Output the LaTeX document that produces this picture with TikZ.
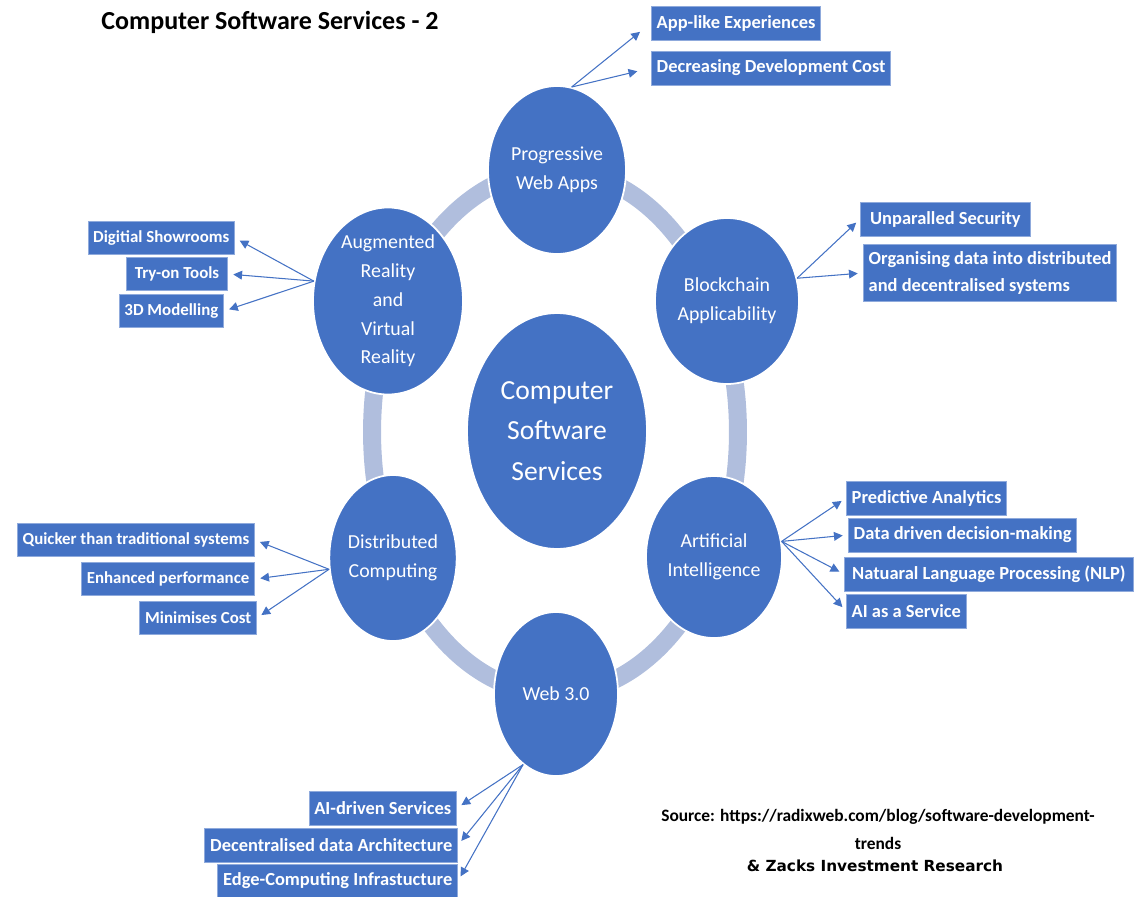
\documentclass[tikz,border=0pt]{standalone}
\usepackage{fontspec}
\setmainfont{Carlito}
\newfontfamily\zacksfont{DejaVu Sans}
\usetikzlibrary{shapes.geometric,arrows.meta}
\definecolor{bubble}{RGB}{68,114,196}
\definecolor{ringcol}{RGB}{176,190,221}
\definecolor{boxedge}{RGB}{143,170,220}
\tikzset{
  bubble/.style={ellipse, fill=bubble, draw=white, line width=1pt, inner sep=0pt,
    text=white, align=center, font=\fontsize{11.3}{16.4}\selectfont},
  tag/.style={rectangle, fill=bubble, draw=boxedge, line width=0.5pt, text=white,
    font=\fontsize{10.5}{15.9}\selectfont\bfseries, minimum height=0.68cm,
    inner xsep=3pt, inner ysep=2pt},
  smalltag/.style={tag, font=\fontsize{9.6}{14}\selectfont\bfseries, minimum height=0.66cm},
  link/.style={draw=bubble, line width=0.6pt, -{Triangle[length=5pt,width=5pt]}, shorten >=3pt},
}
\begin{document}
\begin{tikzpicture}[x=0.02cm,y=-0.02cm]
\useasboundingbox (0,0) rectangle (1142,896);

% ring behind the bubbles
\draw[ringcol, line width=0.36cm] (555,432) ellipse [x radius=3.66cm, y radius=5.24cm];

% bubbles
\node[bubble, minimum width=3.6cm, minimum height=4.72cm,
      font=\fontsize{15.7}{23}\selectfont] (css) at (557,431) {Computer\\Software\\Services};
\node[bubble, minimum width=2.76cm, minimum height=3.36cm] (pwa) at (557,170) {Progressive\\Web Apps};
\node[bubble, minimum width=2.88cm, minimum height=3.32cm] (bc) at (727,301) {Blockchain\\Applicability};
\node[bubble, minimum width=3.0cm, minimum height=3.28cm] (ar) at (388,301) {Augmented\\Reality\\and\\Virtual\\Reality};
\node[bubble, minimum width=2.48cm, minimum height=3.32cm] (dc) at (393,558) {Distributed\\Computing};
\node[bubble, minimum width=2.72cm, minimum height=3.24cm] (ai) at (714,557) {Artificial\\Intelligence};
\node[bubble, minimum width=2.48cm, minimum height=3.28cm] (web) at (556,694) {Web 3.0};

% boxes
\node[tag, anchor=west] (app) at (651,23) {App-like Experiences};
\node[tag, anchor=west] (cost) at (651,68) {Decreasing Development Cost};
\node[tag, anchor=west, minimum width=3.4cm] (sec) at (860,219) {Unparalled Security};
\node[tag, anchor=west, align=left, inner ysep=4pt] (org) at (863,273) {Organising data into distributed\\and decentralised systems};
\node[smalltag, anchor=east] (show) at (235,238) {Digitial Showrooms};
\node[smalltag, anchor=east, minimum width=2.02cm] (tryon) at (228,274) {Try-on Tools};
\node[smalltag, anchor=east] (model) at (224,311) {3D Modelling};
\node[smalltag, anchor=east] (quick) at (255,540) {Quicker than traditional systems};
\node[smalltag, anchor=east] (perf) at (255,579) {Enhanced performance};
\node[smalltag, anchor=east] (mincost) at (257,618) {Minimises Cost};
\node[tag, anchor=west] (pred) at (846,498) {Predictive Analytics};
\node[tag, anchor=west] (ddm) at (848,535) {Data driven decision-making};
\node[tag, anchor=west, minimum width=5.78cm] (nlp) at (844,574) {Natuaral Language Processing (NLP)};
\node[tag, anchor=west] (aas) at (846,611) {AI as a Service};
\node[tag, anchor=east] (aids) at (457,808) {AI-driven Services};
\node[tag, anchor=east] (dda) at (458,845) {Decentralised data Architecture};
\node[tag, anchor=east] (edge) at (458,881) {Edge-Computing Infrastucture};

% arrows
\draw[link, shorten >=8pt] (pwa.80) -- (app.west);
\draw[link, shorten >=8pt] (pwa.80) -- (cost.west);
\draw[link] (bc.18) -- (sec.west);
\draw[link] (bc.18) -- (org.west);
\foreach \t in {show,tryon,model}
  \draw[link] (ar.165) -- (\t.east);
\foreach \t in {quick,perf,mincost}
  \draw[link] (dc.190) -- (\t.east);
\foreach \t in {pred,ddm,nlp,aas}
  \draw[link] (ai.13) -- (\t.west);
\foreach \t in {aids,dda,edge}
  \draw[link] (web.245) -- (\t.east);

% titles
\node[font=\fontsize{14.8}{18}\selectfont\bfseries] (title) at (270,22) {Computer Software Services - 2};
\node[align=center, font=\fontsize{9.9}{15.9}\selectfont\bfseries] (src) at (878,829)
  {Source: https://radixweb.com/blog/software-development-\\trends};
\node[font=\zacksfont\fontsize{8.7}{10}\selectfont\bfseries] (zacks) at (875,866) {\& Zacks Investment Research};
\end{tikzpicture}
\end{document}
